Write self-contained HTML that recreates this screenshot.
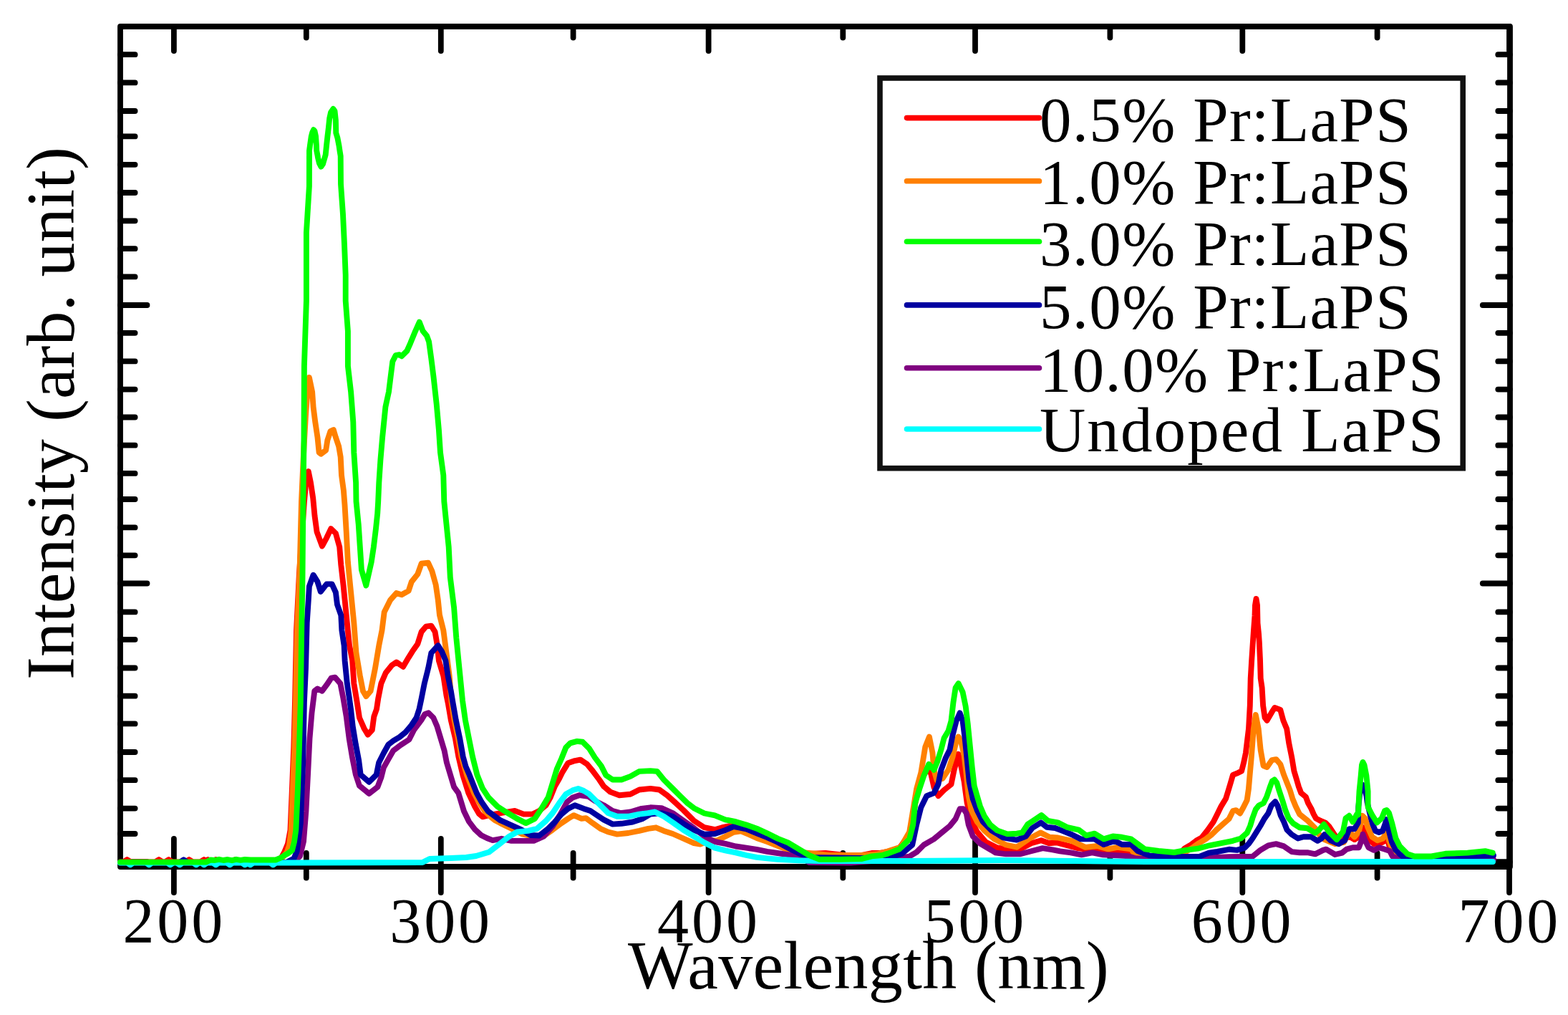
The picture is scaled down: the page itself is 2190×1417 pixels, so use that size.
<!DOCTYPE html>
<html><head><meta charset="utf-8"><title>Intensity vs Wavelength</title>
<style>
html,body{margin:0;padding:0;background:#fff;}
body{width:2190px;height:1417px;overflow:hidden;}
svg{display:block;}
text{font-family:"Liberation Serif","Times New Roman",serif;fill:#000;}
</style></head>
<body>
<svg width="2190" height="1417" viewBox="0 0 2190 1417">
<rect x="0" y="0" width="2190" height="1417" fill="#fff"/>
<g stroke="#000" stroke-width="7.8" stroke-linecap="round" fill="none">
<line x1="168" y1="76.2" x2="188.6" y2="76.2"/>
<line x1="2109" y1="76.2" x2="2092.3" y2="76.2"/>
<line x1="168" y1="115.4" x2="188.6" y2="115.4"/>
<line x1="2109" y1="115.4" x2="2092.3" y2="115.4"/>
<line x1="168" y1="155" x2="188.6" y2="155"/>
<line x1="2109" y1="155" x2="2092.3" y2="155"/>
<line x1="168" y1="190.4" x2="188.6" y2="190.4"/>
<line x1="2109" y1="190.4" x2="2092.3" y2="190.4"/>
<line x1="168" y1="229.8" x2="188.6" y2="229.8"/>
<line x1="2109" y1="229.8" x2="2092.3" y2="229.8"/>
<line x1="168" y1="269" x2="188.6" y2="269"/>
<line x1="2109" y1="269" x2="2092.3" y2="269"/>
<line x1="168" y1="308.3" x2="188.6" y2="308.3"/>
<line x1="2109" y1="308.3" x2="2092.3" y2="308.3"/>
<line x1="168" y1="347.2" x2="188.6" y2="347.2"/>
<line x1="2109" y1="347.2" x2="2092.3" y2="347.2"/>
<line x1="168" y1="386.4" x2="188.6" y2="386.4"/>
<line x1="2109" y1="386.4" x2="2092.3" y2="386.4"/>
<line x1="168" y1="426" x2="205.5" y2="426"/>
<line x1="2109" y1="426" x2="2070.8" y2="426"/>
<line x1="168" y1="464.8" x2="188.6" y2="464.8"/>
<line x1="2109" y1="464.8" x2="2092.3" y2="464.8"/>
<line x1="168" y1="504.4" x2="188.6" y2="504.4"/>
<line x1="2109" y1="504.4" x2="2092.3" y2="504.4"/>
<line x1="168" y1="543.6" x2="188.6" y2="543.6"/>
<line x1="2109" y1="543.6" x2="2092.3" y2="543.6"/>
<line x1="168" y1="582.5" x2="188.6" y2="582.5"/>
<line x1="2109" y1="582.5" x2="2092.3" y2="582.5"/>
<line x1="168" y1="621.7" x2="188.6" y2="621.7"/>
<line x1="2109" y1="621.7" x2="2092.3" y2="621.7"/>
<line x1="168" y1="660.9" x2="188.6" y2="660.9"/>
<line x1="2109" y1="660.9" x2="2092.3" y2="660.9"/>
<line x1="168" y1="697" x2="188.6" y2="697"/>
<line x1="2109" y1="697" x2="2092.3" y2="697"/>
<line x1="168" y1="736.4" x2="188.6" y2="736.4"/>
<line x1="2109" y1="736.4" x2="2092.3" y2="736.4"/>
<line x1="168" y1="775.3" x2="188.6" y2="775.3"/>
<line x1="2109" y1="775.3" x2="2092.3" y2="775.3"/>
<line x1="168" y1="814.5" x2="205.5" y2="814.5"/>
<line x1="2109" y1="814.5" x2="2070.8" y2="814.5"/>
<line x1="168" y1="854.4" x2="188.6" y2="854.4"/>
<line x1="2109" y1="854.4" x2="2092.3" y2="854.4"/>
<line x1="168" y1="892.8" x2="188.6" y2="892.8"/>
<line x1="2109" y1="892.8" x2="2092.3" y2="892.8"/>
<line x1="168" y1="932.5" x2="188.6" y2="932.5"/>
<line x1="2109" y1="932.5" x2="2092.3" y2="932.5"/>
<line x1="168" y1="971.7" x2="188.6" y2="971.7"/>
<line x1="2109" y1="971.7" x2="2092.3" y2="971.7"/>
<line x1="168" y1="1010.4" x2="188.6" y2="1010.4"/>
<line x1="2109" y1="1010.4" x2="2092.3" y2="1010.4"/>
<line x1="168" y1="1050" x2="188.6" y2="1050"/>
<line x1="2109" y1="1050" x2="2092.3" y2="1050"/>
<line x1="168" y1="1089.2" x2="188.6" y2="1089.2"/>
<line x1="2109" y1="1089.2" x2="2092.3" y2="1089.2"/>
<line x1="168" y1="1128.6" x2="188.6" y2="1128.6"/>
<line x1="2109" y1="1128.6" x2="2092.3" y2="1128.6"/>
<line x1="168" y1="1164" x2="188.6" y2="1164"/>
<line x1="2109" y1="1164" x2="2092.3" y2="1164"/>
<line x1="168" y1="1203.2" x2="205.5" y2="1203.2"/>
<line x1="2109" y1="1203.2" x2="2070.8" y2="1203.2"/>
<line x1="242.9" y1="37" x2="242.9" y2="71.1"/>
<line x1="242.9" y1="1170.9" x2="242.9" y2="1246.1"/>
<line x1="427.8" y1="37" x2="427.8" y2="52.5"/>
<line x1="427.8" y1="1190.9" x2="427.8" y2="1225.6"/>
<line x1="615.8" y1="37" x2="615.8" y2="71.1"/>
<line x1="615.8" y1="1170.9" x2="615.8" y2="1246.1"/>
<line x1="800.6" y1="37" x2="800.6" y2="52.5"/>
<line x1="800.6" y1="1190.9" x2="800.6" y2="1225.6"/>
<line x1="989.6" y1="37" x2="989.6" y2="71.1"/>
<line x1="989.6" y1="1170.9" x2="989.6" y2="1246.1"/>
<line x1="1177.3" y1="37" x2="1177.3" y2="52.5"/>
<line x1="1177.3" y1="1190.9" x2="1177.3" y2="1225.6"/>
<line x1="1362" y1="37" x2="1362" y2="71.1"/>
<line x1="1362" y1="1170.9" x2="1362" y2="1246.1"/>
<line x1="1550.4" y1="37" x2="1550.4" y2="52.5"/>
<line x1="1550.4" y1="1190.9" x2="1550.4" y2="1225.6"/>
<line x1="1735.3" y1="37" x2="1735.3" y2="71.1"/>
<line x1="1735.3" y1="1170.9" x2="1735.3" y2="1246.1"/>
<line x1="1923.6" y1="37" x2="1923.6" y2="52.5"/>
<line x1="1923.6" y1="1190.9" x2="1923.6" y2="1225.6"/>
<line x1="2108" y1="37" x2="2108" y2="71.1"/>
<line x1="2108" y1="1170.9" x2="2108" y2="1246.1"/>
</g>
<rect x="168" y="37" width="1941" height="1173" fill="none" stroke="#000" stroke-width="7.8" stroke-linejoin="round"/>
<g fill="none" stroke-width="7.9" stroke-linejoin="round" stroke-linecap="round">
<polyline stroke="#ff0000" points="168,1203.5 172,1203.5 177.5,1200 183,1203.5 216.4,1203.5 221.9,1200 227.4,1203.5 230.1,1203.5 235.6,1200 241.1,1203.5 258.6,1203.5 264.1,1200 269.6,1203.5 279.4,1203.5 284.9,1200 290.4,1203.5 284.8,1203.5 290.3,1200 295.8,1203.5 295.9,1203.5 301.4,1200 306.9,1203.5 323.3,1203.5 328.8,1200 334.3,1203.5 385,1203 392,1199 397,1190 402,1178 405.5,1159 408,1100 410.3,1042.8 412,980 414,880 418,800 425,700 428,665 430.8,658.2 434,674 437.2,695.3 439.5,720 442.5,742.3 449.9,762.5 456.2,750.8 462.2,738.1 468.9,744.5 474.2,763.5 476.3,788.9 479.5,816.5 481.6,837.6 484.8,869.4 488,901.1 492.2,922.3 494.3,954.1 498.6,980 502,1002 508.7,1017.3 513.8,1025.7 519.8,1019 522.3,1000.3 526,990 528.2,975.3 532.4,954.1 538.8,939.3 547.3,928.7 553.6,924.4 563.1,930.8 570.6,918.1 575.9,909.6 583.3,899 588.6,882.1 594.9,874.7 602.3,873.6 607.6,882.1 610.8,901.1 612.9,922.3 619.3,943.5 623.5,971 626,983 629.8,1005.4 635.9,1030.8 640.3,1056.2 646.3,1081.7 654.3,1107.1 663.2,1126.1 669,1136 674,1140.3 682,1138.5 691.1,1136.6 703.5,1134.3 719,1132 731.4,1136.6 743.9,1136.6 753.2,1132 762.5,1124.2 768.7,1113.4 774.9,1097.8 781.1,1087 785.8,1077.6 793.5,1065.2 802.9,1062.1 810.6,1060.6 819.9,1066.8 827.7,1076.1 837,1088.5 843.2,1097.8 852.5,1105.6 865,1110.2 880.5,1108.7 892.9,1102.5 908.4,1100.9 920.9,1102.5 931.7,1110.2 941,1118.5 954.6,1131.1 969.2,1145.8 983.8,1155.2 998.4,1158.2 1008.7,1155.2 1018.9,1153.1 1030,1154 1042,1157 1057,1163 1071,1169 1086,1176 1100,1183 1115,1189 1130,1192 1153,1191 1180,1194 1203,1194 1217.6,1191 1229,1191 1240,1189 1256,1184 1270,1165 1276,1135 1282,1100 1290,1082 1297,1072 1300.4,1080.9 1304.4,1099 1310.4,1111.1 1318.5,1103 1328.5,1095 1332.6,1074.9 1338.6,1052.7 1342.6,1070.8 1346.6,1091 1350.7,1121.1 1356.7,1145.3 1364.7,1161.4 1376.8,1175.5 1392.9,1183.5 1410.1,1186.3 1425.2,1185.2 1440.3,1177.2 1454.3,1173.2 1465.4,1177.2 1475.4,1176.2 1490.5,1180.2 1505.6,1184.2 1520.6,1186.3 1540.7,1189.3 1570.9,1190.3 1585.9,1194.3 1600,1198.3 1640,1198 1648,1192 1654.2,1184.7 1661.9,1180.3 1670.6,1173.8 1678.3,1169.4 1687,1158.5 1694.7,1147.5 1700.2,1136.6 1705.6,1125.6 1712.2,1114.7 1715.5,1103.8 1718.8,1092.8 1722,1081.9 1727.5,1079.7 1734.1,1076.4 1737,1065.1 1739.9,1051.2 1744,1017.6 1745.8,985 1746.7,947 1748.2,921.7 1749.9,896.2 1751,880 1752.5,860 1753,845 1754.5,836 1756,845 1756.5,870 1758,885 1758.8,896.2 1760,921.7 1760.7,947 1762.6,959.8 1764.1,985.2 1766.6,1001.8 1769.6,1005.8 1776.5,993.9 1780.4,988 1788.3,990.9 1792.3,1005.8 1797.2,1017.6 1800.2,1037.4 1804.2,1057.2 1807.4,1076.4 1810.7,1087.3 1813.9,1098.3 1817.2,1107 1823.8,1112.5 1827.1,1121.3 1831.4,1128.9 1834.7,1136.6 1838,1142.5 1843.5,1145.5 1851.1,1148.6 1856.6,1154.1 1867,1170 1878,1170 1885.6,1168.4 1891.8,1172.1 1897.9,1168.4 1902.9,1154.8 1906.6,1161 1911.5,1170.8 1918.9,1178.2 1931.2,1175.8 1937.4,1170.8 1941.1,1183.2 1947.3,1191.8 1953.4,1198 1970,1201 2085,1200"/>
<polyline stroke="#ff8000" points="168,1204 385,1203.5 395,1197 401,1189 404,1180 406.7,1159 409,1100 411.4,1042.8 413,980 415,880 418.5,800 421,700 424.5,624 427,580 429.5,545 431.9,527 436.1,547 437.6,568.2 440.3,589.4 443.5,610.6 445.6,631.7 448.2,633.8 455.2,628.5 457.3,614.8 461.5,602.1 465.8,600 468.9,610.6 473.2,623.3 475.7,638.1 477,663.5 479.9,684.7 481.5,705 483.7,742.3 485.9,784.7 490.1,827 494.3,869.4 497.5,911.7 502.8,943.5 507,964.7 511.3,972.1 517.6,964.7 524,932.9 529.3,901.1 533.5,880 536.7,854.6 545.2,837.6 553.6,828.1 561,830.2 570.6,824.9 574.8,812.2 583.3,801.6 588.6,786.8 598.1,785.8 603.4,797.4 608.7,816.5 611.8,837.6 614,858.8 619.3,880 623.5,911.7 627.7,943.5 630.5,980 634.5,1005 640,1030.8 644.5,1056.2 652,1081.7 662,1107.1 669,1119.8 677,1132.5 686,1141 691,1145 698.8,1149.1 714.3,1156.8 729.9,1164.6 745.4,1167.7 760.9,1166.1 771.8,1158.4 784.2,1149.1 793.5,1142.9 801.3,1138.2 812.2,1142.9 818.4,1142.1 827.7,1149.1 838.6,1156.8 849.4,1161.5 861.9,1164.6 877.4,1163 892.9,1159.9 905.3,1156.8 916.2,1155.3 927.1,1159.9 939.5,1164 954.6,1170.6 969.2,1177.2 978,1178.6 991.1,1173.5 1001.4,1173.5 1013.1,1167.7 1024.7,1161.8 1035,1160.4 1045.2,1164.7 1056.9,1169.9 1071.5,1175 1086.1,1180.8 1100.7,1186.7 1115.3,1189.6 1130,1191 1159.2,1194 1203,1194 1224.9,1192.5 1239.5,1188.5 1258.1,1182.5 1270.2,1161.4 1275.2,1131.2 1280.2,1101 1286.3,1078.9 1292.3,1042.7 1297.9,1028.6 1302.4,1050.7 1304.4,1074.9 1308.4,1089 1316.5,1086.9 1324.5,1074.9 1330.5,1056.8 1335.6,1034.6 1338.6,1028.6 1342.6,1036.6 1346.6,1054.7 1349.7,1080.9 1352.7,1111.1 1356.7,1131.2 1364.7,1147.3 1374.8,1159.4 1388.9,1171.4 1405,1179.5 1420,1182.7 1436.6,1171.4 1453.2,1162.4 1466,1168.8 1477.5,1169.5 1496.7,1173.9 1515.9,1182.9 1532.5,1181 1547.9,1185.4 1560.6,1182.9 1579.8,1185.4 1586.2,1194.4 1611.8,1198.2 1640,1198 1655,1190 1665.2,1183.6 1672.8,1178.1 1683.8,1171.6 1692.5,1165 1700.2,1157.4 1707.8,1150.8 1716.6,1143.1 1722,1132.2 1726.4,1131.1 1731.9,1135.5 1736.3,1127.8 1741.7,1116.9 1743.9,1101.6 1745.6,1081.9 1747.8,1057.2 1750.8,1017.6 1753.8,997.9 1757.7,1017.6 1760.7,1047.3 1764.6,1069 1769.6,1071 1776.5,1061.1 1782.4,1060.1 1788.3,1067 1793.2,1081.9 1797.5,1092.8 1801.9,1103.8 1805.2,1114.7 1809.6,1125.6 1815,1136.6 1826,1145.3 1836.9,1156.3 1842.4,1165 1850,1172 1856,1174.5 1864.7,1178.2 1877,1175.8 1884.4,1161 1891.8,1168.4 1897.9,1161 1902.9,1138.8 1906.6,1142.5 1910.3,1154.8 1916.4,1168.4 1923.8,1173.3 1931.2,1170.8 1937.4,1161 1939.9,1173.3 1944.8,1185.6 1953.4,1195.5 1963.3,1199.2 2037.3,1198 2085,1199"/>
<polyline stroke="#800080" points="168,1204 405,1204 413.9,1200.2 419,1195.1 424,1174.8 427.4,1132.5 430,1081.6 432.5,1030.8 435.5,995 439.3,964.7 443.5,961.5 449.9,964.7 456.2,956.2 462.6,946.7 467.9,945.6 475.3,954.1 479.5,975.3 483.7,1000 487.6,1030.8 491.8,1056.2 496.9,1081.6 502,1096.9 515.5,1107.9 527.4,1098.6 532.5,1085 535.9,1071.5 542.6,1059.6 549.4,1047.8 559.6,1040.1 571.4,1032.5 578.2,1019 588.4,1005.4 593.5,996.9 598.5,995.2 605.3,1002 610.4,1013.9 615.5,1030.8 620.6,1047.8 623.9,1064.7 629,1081.6 634.1,1098.6 640.3,1107.1 648,1132.5 655,1147 663.2,1157.9 672,1166 680,1170 688,1173.1 700.4,1170.8 714.3,1173.9 729.9,1173.9 745.4,1173.9 759.4,1167.7 771.8,1153.7 782.7,1136.6 792,1119.6 799.8,1113.4 809.1,1110.2 821.5,1111.8 830.8,1118 843.2,1124.2 855.7,1132 866.5,1135.1 880.5,1133.5 896,1128.9 908.4,1127.3 924,1128.1 939.5,1135 954.6,1145.8 969.2,1156 983.8,1167.7 998.4,1175 1013.1,1177.9 1027.7,1181.5 1042.3,1183.7 1056.9,1185.9 1071.5,1188.9 1086.1,1191 1100.7,1193.2 1115.3,1194.7 1130,1204 1188,1204.5 1240,1200 1270.2,1195.6 1280.2,1189.6 1290.3,1179.5 1304.4,1171.4 1316.5,1161.4 1326.5,1153.3 1334.6,1143.3 1340.6,1129.2 1345.6,1129.2 1349.7,1135.2 1352.7,1151.3 1358.7,1167.4 1368.8,1177.5 1384.9,1187 1390,1190.3 1405.1,1192.3 1425.2,1192.3 1440.3,1188.3 1456.3,1184.2 1470.4,1186.3 1480.5,1188.3 1495.5,1190.3 1510.6,1193.3 1525.7,1190.3 1540.7,1193.3 1560.8,1194.3 1575.9,1195.3 1585.9,1198.3 1600,1199.3 1683.8,1197.8 1716.6,1196.2 1749.4,1195.7 1760.3,1186.9 1771.3,1180.3 1782.2,1178.1 1793.2,1181.4 1804.1,1189.1 1815,1190.2 1826,1190.2 1836.9,1192.4 1847.9,1186.9 1852.3,1185.6 1864.7,1193 1874.5,1190.6 1880.7,1185.6 1889.3,1183.2 1897.9,1183.2 1901.6,1173.3 1903.5,1164.7 1906.6,1173.3 1911.5,1183.2 1918.9,1186.9 1926.3,1183.2 1933.7,1185.6 1941.1,1188.1 1944.8,1195.5 1953.4,1199.2 2086,1200"/>
<polyline stroke="#0000a0" points="168,1204 251,1204 256.5,1200.2 262,1204 400,1204 410.5,1198.5 414.7,1188.4 419.8,1149.4 423.2,1064.7 424.9,980 427,932.9 428.7,869.4 430.8,837.6 431.9,818.6 437.6,802.7 443.5,812.2 447.8,826 456.2,815.4 463.6,815.4 468.9,827 471,844 476.3,858.8 477.4,880 480.6,901.1 481.6,922.3 484.8,954.1 488,975.3 490,990 492.7,1013.9 496.9,1039.3 501.1,1061.3 503.7,1081.6 515.5,1091.8 525.7,1081.6 529.1,1064.7 535.9,1051.2 542.6,1039.3 549.4,1034.2 557.9,1029.1 566.3,1022.4 574.8,1012.2 581.6,1002 585.5,990 588.6,975.3 592.8,954.1 598.1,932.9 602.3,911.7 611.8,901.1 617.1,909.6 622.4,922.3 625.6,943.5 629.8,964.7 632.7,982 636.8,1005.4 642.2,1030.8 646.7,1056.2 650.5,1070 655.6,1081.7 665.7,1107.1 672.7,1119.8 681.6,1132.5 698.8,1145.2 714.3,1152.2 728.3,1158.4 740.7,1166 753.2,1166.5 765.6,1156.8 774.9,1147.5 784.2,1136.6 793.5,1128.9 802.9,1124.2 815.3,1128.9 824.6,1132 833.9,1138.2 843.2,1144.4 855.7,1150.6 868.1,1149.8 883.6,1147.5 897.6,1142.9 908.4,1136.6 924,1135.1 939.5,1139.8 954.6,1150.1 969.2,1158.9 983.8,1164.7 998.4,1164 1013.1,1158.9 1024.7,1153.8 1042.3,1157.4 1056.9,1163.3 1071.5,1169.1 1086.1,1175.7 1100.7,1183.7 1115.3,1191 1130,1196.9 1200,1198 1240,1197.6 1260.1,1191.6 1274.2,1179.5 1280.2,1151.3 1286.3,1127.2 1294.3,1111.1 1304.4,1107.1 1310.4,1095 1314.4,1074.9 1320.5,1058.8 1326.5,1046.7 1330.5,1026.6 1335.6,1006.5 1340.6,995.4 1344.6,1006.5 1347.6,1030.6 1350.7,1060.8 1353.7,1091 1358.7,1115.1 1364.7,1131.2 1372.8,1147.3 1384.9,1159.4 1401,1169.4 1420,1172.6 1432.8,1167.5 1441.7,1156 1453.9,1148.4 1462.2,1154.8 1473.7,1156 1483.9,1159.9 1496.7,1165 1509.5,1171.4 1528.7,1171.4 1541.5,1179 1556.8,1173.9 1567,1179 1579.8,1179 1588.8,1188 1605.4,1194.4 1637.4,1196.3 1675.7,1195.7 1688.5,1190.6 1700.2,1189 1711.1,1186.9 1716.6,1185.8 1727.5,1186.9 1738.5,1183.6 1743.9,1178.1 1749.4,1170.5 1754.9,1161.7 1760.3,1153 1765.8,1143.1 1771.3,1135.5 1775.7,1124.5 1781.1,1119.1 1784.4,1124.5 1788.8,1138.8 1793.2,1147.5 1797.5,1158.5 1804.1,1165 1812.8,1170.5 1820.5,1168.3 1831.4,1168.3 1840.2,1173.8 1845.7,1170.5 1850,1165 1858.5,1173.3 1869.6,1178.2 1878.2,1173.3 1884.4,1157.3 1891.8,1157.3 1896.8,1148.5 1897.3,1126.6 1899.5,1104.7 1901.5,1098 1903.5,1096 1905.5,1100 1908.5,1111.3 1909.6,1120 1912.3,1132 1915,1143 1917.2,1150.7 1921,1160 1926,1162 1931,1160 1934,1152 1936.3,1144.1 1938.5,1155 1944,1175.8 1949.4,1186.8 1954.9,1192.2 1960.3,1196.6 1968,1198 2037.3,1195.5 2086,1194.2"/>
<polyline stroke="#00ffff" points="168,1204.5 177.4,1204.5 181.9,1207.3 186.4,1204.5 203.7,1204.5 208.2,1207.3 212.7,1204.5 233.3,1204.5 237.8,1207.3 242.3,1204.5 246.5,1204.5 251,1207.3 255.5,1204.5 269.5,1204.5 274,1207.3 278.5,1204.5 280.5,1204.5 285,1207.3 289.5,1204.5 296.9,1204.5 301.4,1207.3 305.9,1204.5 316.5,1204.5 321,1207.3 325.5,1204.5 337.5,1204.5 342,1207.3 346.5,1204.5 345.1,1204.5 349.6,1207.3 354.1,1204.5 376.9,1204.5 381.4,1207.3 385.9,1204.5 590,1204 600,1199 630,1198 651,1197 665,1195 675,1192 683.3,1189.4 697.3,1178.6 711.2,1167.7 722.1,1161.5 737.6,1159.9 750.1,1156.8 762.5,1146 771.8,1135.1 781.1,1121.1 790.4,1108.7 799.8,1103.3 807.5,1100.9 815.3,1104 823,1108.7 830.8,1116.5 840.1,1125.8 849.4,1135.1 861.9,1139.8 877.4,1139.8 892.9,1136.6 905.3,1135.1 914.7,1133.5 927.1,1139.8 940,1148.5 954.6,1158.9 969.2,1167.7 983.8,1176.4 998.4,1183.7 1013.1,1187.4 1027.7,1190.3 1042.3,1194 1056.9,1196.9 1071.5,1198.4 1086.1,1199.8 1115.3,1201.3 1144.6,1202 1260,1202 1400,1201 1600,1203 2085,1203"/>
<polyline stroke="#00ff00" points="168,1203.6 200,1203.6 250,1203.6 288,1203.6 294,1200.5 300,1201 306,1199.8 312,1201 318,1200 324,1201.2 330,1199.8 336,1200.8 342,1200 350,1200.5 360,1200.5 385,1200.5 392,1197.7 397,1194.3 402,1191.5 408,1187 411,1175 413.3,1159 416,1100 417.9,1042.8 419.8,980 421.2,880 422.5,805.9 423.4,700 424.5,610.6 424.9,511 427.9,420 427.9,324.8 431.9,260 432,210.3 433,202.7 434.7,190.8 436.2,184.9 438,181.2 439.5,183 441,190 442,203.5 442.2,210.3 443.4,216.2 444.1,220.4 446,228 448.4,232.6 451,229 454.7,216.2 456,203.5 457.4,190.8 458.9,178.1 460.2,165.4 462,157 465.4,152 467.5,155 468.9,168 469.3,185.7 471.4,192.5 473.5,203.5 474.6,211.1 475.7,217.9 476,257 479,299.4 481,341.7 482.7,384 482.7,420 485.9,462.3 485.9,511 490.1,547 493.3,589.4 494.3,631.7 497.1,674 497.5,700 500.7,731.8 502.8,763.5 504.9,795.3 511.3,817.5 518.7,784.7 521.9,763.5 525,738.1 527.2,716.9 528.2,700 529.3,674 531.4,642.3 534.1,610.6 538.4,568.2 543,547 545.6,525.9 548.3,504.7 552.6,496.2 557.9,495.2 561,497.3 568.4,489.9 573.1,479.3 580.1,462.3 585.8,449.6 590.7,462.3 596,468.7 599.1,477.2 602.3,500.5 605.5,525.9 609.7,564 612.9,600 615,631.7 619.3,663.5 620.3,700 623.5,731.8 626.7,763.5 628.8,805.9 634.1,848.2 637.3,890.6 641.5,932.9 646,978 649.9,1005.4 654.9,1030.8 660,1056.2 666.4,1081.7 674,1100.7 682.3,1113.4 695,1126.1 706.6,1133.5 722.1,1142.9 734.5,1149.1 747,1142.9 756.3,1128.9 765.6,1113.4 771.8,1093.2 778,1073 784.2,1059 790.4,1043.5 796.6,1037.3 806,1034.9 813.7,1035.7 823,1045 830.8,1057.5 840.1,1069.9 846.3,1082.3 855.7,1088.5 868.1,1088.5 880.5,1083.9 892.9,1076.9 908.4,1076.1 917.8,1076.9 927.1,1088.5 939.5,1100.9 950.4,1111.8 960,1121.1 969.2,1128.2 983.8,1135.5 998.4,1138.4 1013.1,1144.3 1027.7,1147.2 1042.3,1151.6 1056.9,1156.7 1071.5,1163.3 1086.1,1170.6 1100.7,1176.4 1115.3,1185.2 1130,1194 1144.6,1199.8 1173.8,1199.8 1203,1199.1 1217.6,1195.4 1232.2,1194 1240,1191.6 1256.1,1185.5 1270.2,1171.4 1275.2,1151.3 1278.2,1121.1 1284.3,1101 1290.3,1082.9 1297.3,1066.8 1304.4,1074.9 1309.4,1062.8 1314.4,1046.7 1318.5,1030.6 1324.5,1020.5 1328.5,1006.5 1331.5,980.3 1334.6,960.2 1338.6,954.1 1344.6,966.2 1348.7,986.3 1351.7,1010.5 1354.7,1040.7 1357.7,1070.8 1360.7,1097 1364.7,1111.1 1368.8,1125.2 1374.8,1139.3 1382.9,1151.3 1392.9,1159.4 1407,1164.4 1420,1163.7 1427.7,1162.4 1435.3,1150.9 1443,1145.8 1454.5,1138.1 1463.5,1145.8 1477.5,1148.4 1490.3,1154.8 1506.9,1158.6 1517.2,1166.3 1528.7,1163.7 1541.5,1171.4 1554.3,1167.5 1567,1168.8 1579.8,1171.4 1590.1,1179 1599,1185.4 1618.2,1188 1640,1190 1656.4,1186.9 1672.8,1184.7 1689.2,1180.3 1705.6,1177.1 1722,1173.8 1733,1170.5 1741.7,1162.8 1746.1,1153 1749.4,1142 1753.8,1130 1758.2,1124.5 1764.7,1121.3 1769.1,1112.5 1773.5,1099.4 1776.8,1090.6 1780,1088.4 1783.3,1092.8 1786.6,1103.8 1791,1116.9 1795.3,1131.1 1799.7,1142 1806.3,1149.7 1815,1155.2 1826,1156.3 1836.9,1162.8 1842.4,1158.5 1849,1150.8 1856,1161 1867.1,1172.1 1875.8,1161 1879.5,1142.5 1884.4,1138.8 1889.3,1147.4 1895.5,1136.3 1897.1,1137.5 1897.4,1126.6 1898.5,1104.7 1900.7,1082.8 1902,1068 1903.5,1064 1905.5,1068 1908.4,1082.8 1910.6,1104.7 1910.6,1126.6 1916.3,1137.5 1923.2,1148.5 1930,1142 1934,1132 1936.8,1131 1940,1135 1944,1148.5 1949.4,1170.3 1954.9,1181.3 1965.8,1192.2 1975.6,1195.5 1999.3,1195.5 2018.8,1191.8 2049.6,1190.6 2074.3,1188.1 2084.7,1190.6"/>
</g>
<g font-size="88" letter-spacing="3.9">
<text x="171.4" y="1314.5">200</text>
<text x="544.3" y="1314.5">300</text>
<text x="918.1" y="1314.5">400</text>
<text x="1290.5" y="1314.5">500</text>
<text x="1663.8" y="1314.5">600</text>
<text x="2036.5" y="1314.5">700</text>
</g>
<text x="877" y="1379.8" font-size="96" letter-spacing="0.35">Wavelength (nm)</text>
<text transform="translate(103,577) rotate(-90)" font-size="96" text-anchor="middle">Intensity (arb. unit)</text>
<rect x="1229" y="109" width="814.2" height="544.7" fill="#fff" stroke="#111" stroke-width="7.6"/>
<g stroke-width="7.6" stroke-linecap="round" font-size="89" letter-spacing="1.3">
<line x1="1266.5" y1="164.6" x2="1451.5" y2="164.6" stroke="#ff0000"/>
<line x1="1266.5" y1="252.8" x2="1451.5" y2="252.8" stroke="#ff8000"/>
<line x1="1266.5" y1="337.3" x2="1451.5" y2="337.3" stroke="#00ff00"/>
<line x1="1266.5" y1="425.9" x2="1451.5" y2="425.9" stroke="#0000a0"/>
<line x1="1266.5" y1="513.8" x2="1451.5" y2="513.8" stroke="#800080"/>
<line x1="1266.5" y1="599" x2="1451.5" y2="599" stroke="#00ffff"/>
<text x="1452" y="196.6">0.5% Pr:LaPS</text>
<text x="1452" y="284.1">1.0% Pr:LaPS</text>
<text x="1452" y="369.8">3.0% Pr:LaPS</text>
<text x="1452" y="457.7">5.0% Pr:LaPS</text>
<text x="1452" y="546.2">10.0% Pr:LaPS</text>
<text x="1452" y="630.3" letter-spacing="2.1">Undoped LaPS</text>
</g>
</svg>
</body></html>
